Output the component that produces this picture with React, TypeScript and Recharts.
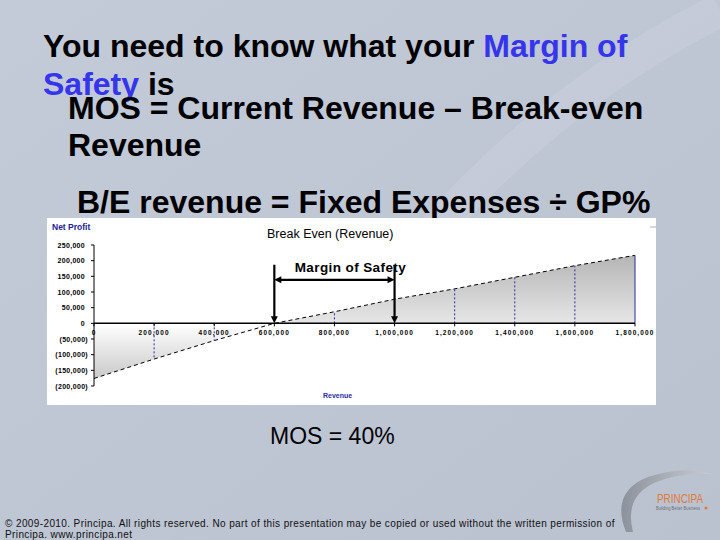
import React from 'react';
import { ComposedChart, Area, XAxis, YAxis, ReferenceLine, ReferenceDot } from 'recharts';

const revenue = [0, 200000, 400000, 600000, 800000, 1000000, 1200000, 1400000, 1600000, 1800000];
const netProfit = [-176000, -114000, -55000, 0, 37000, 77000, 110000, 147000, 184000, 217000];
const yTicks = [-200000, -150000, -100000, -50000, 0, 50000, 100000, 150000, 200000, 250000];
const xTickLabels = ['0', '200,000', '400,000', '600,000', '800,000', '1,000,000', '1,200,000', '1,400,000', '1,600,000', '1,800,000'];
const breakEvenRevenue = 600000;
const currentRevenue = 1000000;
const arrowTop = 187000;
const arrowLevel = 139000;
const labelLevel = 163000;

const data = revenue.map((r, i) => ({ revenue: r, profit: netProfit[i] }));

const FONT = '"Liberation Sans", Arial, sans-serif';
const BLUE = '#3535ee';

const fmtY = (v: number) => (v < 0 ? `(${Math.abs(v).toLocaleString('en-US')})` : v.toLocaleString('en-US'));

const YTick = (p: any) => {
  const v = p.payload.value;
  return (
    <text x={p.x} y={p.y} dx={v < 0 ? 3 : 0} dy={2.5} textAnchor="end" fontFamily={FONT} fontSize={7} fontWeight="bold" letterSpacing={0.3} fill="#000">
      {fmtY(v)}
    </text>
  );
};

const arrowShape = (both: boolean) => (p: any) => {
  const { x1, y1, x2, y2 } = p;
  const len = Math.hypot(x2 - x1, y2 - y1) || 1;
  const dx = (x2 - x1) / len;
  const dy = (y2 - y1) / len;
  const L = 7;
  const W = 3.5;
  const head = (tx: number, ty: number, ux: number, uy: number) => {
    const bx = tx - ux * L;
    const by = ty - uy * L;
    return `${tx},${ty} ${bx - uy * W},${by + ux * W} ${bx + uy * W},${by - ux * W}`;
  };
  return (
    <g>
      <line x1={both ? x1 + dx * 5 : x1} y1={both ? y1 + dy * 5 : y1} x2={x2 - dx * 5} y2={y2 - dy * 5} stroke="#000" strokeWidth={2.2} />
      <polygon points={head(x2, y2, dx, dy)} fill="#000" />
      {both && <polygon points={head(x1, y1, -dx, -dy)} fill="#000" />}
    </g>
  );
};

const xTickShape = (label: string) => (p: any) => (
  <g>
    <line x1={p.cx} y1={p.cy} x2={p.cx} y2={p.cy + 3} stroke="#000" strokeWidth={1} />
    <text x={p.cx} y={p.cy + 12} textAnchor="middle" fontFamily={FONT} fontSize={6.5} fontWeight="bold" letterSpacing={1.1} fill="#000">
      {label}
    </text>
  </g>
);

const mosLabelShape = (p: any) => (
  <text x={p.cx} y={p.cy} dx={16} textAnchor="middle" fontFamily={FONT} fontSize={13.5} fontWeight="bold" letterSpacing={0.4} fill="#000">
    Margin of Safety
  </text>
);

export default function App() {
  return (
    <div style={{ position: 'fixed', left: 0, top: 0, width: 720, height: 540, overflow: 'hidden', background: '#bfc6d4' }}>
      <svg width={720} height={540} style={{ position: 'absolute', left: 0, top: 0 }}>
        <defs>
          <linearGradient id="bgGrad" x1="0" y1="0" x2="1" y2="1">
            <stop offset="0" stopColor="#c3cad8" />
            <stop offset="1" stopColor="#bac1cf" />
          </linearGradient>
          <linearGradient id="swoosh" x1="0" y1="0" x2="1" y2="0">
            <stop offset="0" stopColor="#8c929c" />
            <stop offset="1" stopColor="#c9ccd2" />
          </linearGradient>
        </defs>
        <rect x={0} y={0} width={720} height={540} fill="url(#bgGrad)" />
        <path d="M 430 235 Q 560 90 720 10" stroke="rgba(255,255,255,0.10)" strokeWidth={34} fill="none" />
        <g fontFamily={FONT} fontWeight="bold" fontSize={32} fill="#000">
          <text x={43} y={57}>
            You need to know what your <tspan fill={BLUE}>Margin of</tspan>
          </text>
          <text x={43} y={95}>
            <tspan fill={BLUE}>Safety</tspan> is
          </text>
          <text x={68} y={119}>MOS = Current Revenue – Break-even</text>
          <text x={68} y={156}>Revenue</text>
          <text x={77} y={213}>B/E revenue = Fixed Expenses ÷ GP%</text>
        </g>
        <text x={270} y={444} fontFamily={FONT} fontSize={23} fill="#000">MOS = 40%</text>
        <g fontFamily={FONT} fontSize={10} fill="#111" letterSpacing={0.39}>
          <text x={5} y={527}>© 2009-2010. Principa. All rights reserved. No part of this presentation may be copied or used without the written permission of</text>
          <text x={5} y={538}>Principa. www.principa.net</text>
        </g>
        <path d="M 626 532 Q 610 492 648 477 Q 684 465 713 474 Q 682 471 654 483 Q 624 497 633 532 Z" fill="url(#swoosh)" />
        <text x={657} y={503} fontFamily={FONT} fontSize={13} fill="#e07a36" textLength={46} lengthAdjust="spacingAndGlyphs">PRINCIPA</text>
        <text x={656} y={510} fontFamily={FONT} fontSize={4.5} fill="#6c7078" textLength={44} lengthAdjust="spacingAndGlyphs">Building Better Business</text>
        <circle cx={706} cy={508} r={1.5} fill="#e07a36" />
      </svg>

      <div style={{ position: 'absolute', left: 47, top: 218, width: 609, height: 187, background: '#fff' }}>
        <div style={{ position: 'absolute', left: 5, top: 4, fontFamily: FONT, fontSize: 8.5, fontWeight: 'bold', color: '#23238f', whiteSpace: 'nowrap' }}>Net Profit</div>
        <div style={{ position: 'absolute', left: 220, top: 9, width: 126, textAlign: 'center', fontFamily: FONT, fontSize: 12.5, color: '#000', whiteSpace: 'nowrap' }}>Break Even (Revenue)</div>
        <div style={{ position: 'absolute', left: 276, top: 174, fontFamily: FONT, fontSize: 7, fontWeight: 'bold', color: '#2a2aa0', whiteSpace: 'nowrap' }}>Revenue</div>
        <div style={{ position: 'absolute', left: 603, top: 8, width: 6, height: 2, background: '#d8d8d8' }} />
        <ComposedChart width={609} height={187} data={data} margin={{ top: 27, right: 21, bottom: 19, left: 0 }}>
          <defs>
            <linearGradient id="beGrad" x1="0" y1="0" x2="0" y2="1">
              <stop offset="0" stopColor="#b5b5b5" />
              <stop offset="0.55" stopColor="#e6e6e6" />
              <stop offset="0.556" stopColor="#ffffff" />
              <stop offset="1" stopColor="#c9c9c9" />
            </linearGradient>
          </defs>
          <XAxis type="number" dataKey="revenue" domain={[0, 1800000]} hide />
          <YAxis
            type="number"
            domain={[-200000, 250000]}
            ticks={yTicks}
            interval={0}
            width={47}
            axisLine={{ stroke: '#000', strokeWidth: 1 }}
            tickLine={{ stroke: '#000', strokeWidth: 1 }}
            tickSize={3}
            tickMargin={6}
            tick={<YTick />}
          />
          <Area
            type="linear"
            dataKey="profit"
            baseValue={0}
            stroke="#000"
            strokeWidth={1}
            strokeDasharray="4 3"
            fill="url(#beGrad)"
            fillOpacity={1}
            dot={false}
            activeDot={false}
            isAnimationActive={false}
          />
          {data
            .filter((d) => d.revenue > 0 && d.profit !== 0)
            .map((d, i, arr) => (
              <ReferenceLine
                key={`drop-${d.revenue}`}
                segment={[{ x: d.revenue, y: 0 }, { x: d.revenue, y: d.profit }]}
                stroke="#2b2ba8"
                strokeWidth={1}
                strokeDasharray={i === arr.length - 1 ? undefined : '2 2'}
                isFront
              />
            ))}
          <ReferenceLine y={0} stroke="#000" strokeWidth={1.5} isFront />
          {revenue.map((r, i) => (
            <ReferenceDot key={`xt-${r}`} x={r} y={0} r={1} isFront shape={xTickShape(xTickLabels[i])} />
          ))}
          <ReferenceLine
            segment={[{ x: breakEvenRevenue, y: arrowTop }, { x: breakEvenRevenue, y: 0 }]}
            isFront
            shape={arrowShape(false)}
          />
          <ReferenceLine
            segment={[{ x: currentRevenue, y: arrowTop }, { x: currentRevenue, y: 0 }]}
            isFront
            shape={arrowShape(false)}
          />
          <ReferenceLine
            segment={[{ x: breakEvenRevenue, y: arrowLevel }, { x: currentRevenue, y: arrowLevel }]}
            isFront
            shape={arrowShape(true)}
          />
          <ReferenceDot x={(breakEvenRevenue + currentRevenue) / 2} y={labelLevel} r={1} isFront shape={mosLabelShape} />
        </ComposedChart>
      </div>
    </div>
  );
}
